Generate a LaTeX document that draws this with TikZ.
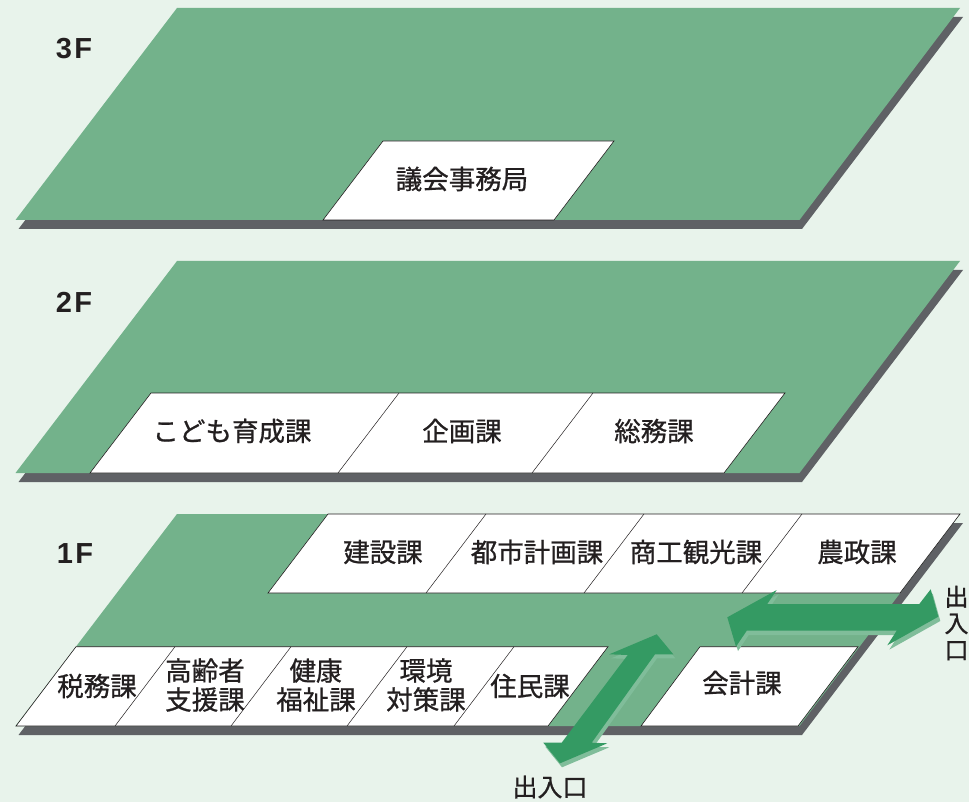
\documentclass[tikz,border=0pt]{standalone}
\usepackage{fontspec}
\setmainfont{Noto Sans CJK JP}
\newfontfamily\roomfont{Noto Sans CJK JP}[FakeBold=0.8]
\newfontfamily\levelfont{Liberation Sans}
\definecolor{bgc}{HTML}{E8F3EB}
\definecolor{floorc}{HTML}{73B28B}
\definecolor{shadowc}{HTML}{5F6165}
\definecolor{arrowc}{HTML}{349A63}
\definecolor{arrowl}{HTML}{80BD9A}
\definecolor{inkc}{HTML}{231F20}
\tikzset{
  floorplate/.style={fill=floorc},
  floorshadow/.style={fill=shadowc},
  roombox/.style={fill=white,draw=inkc,line width=0.6pt,line join=miter},
  divider/.style={draw=inkc,line width=0.5pt},
  roomlabel/.style={font=\fontsize{26.5pt}{29pt}\selectfont\roomfont,text=inkc,inner sep=0pt,align=center},
  floorlabel/.style={font=\fontsize{29pt}{30pt}\selectfont\levelfont\bfseries,text=inkc,inner sep=0pt},
  exitlabel/.style={font=\fontsize{25pt}{26.5pt}\selectfont\roomfont,text=inkc,inner sep=0pt,align=center},
  arrowbody/.style={fill=arrowc},
  arrowglow/.style={fill=arrowl},
}
\newcommand{\floorplate}[1]{%
  \fill[floorshadow,shift={(0,#1)}] (18.5,229) -- (180,17) -- (963,17) -- (802,229) -- cycle;
  \fill[floorplate,shift={(0,#1)}] (15.5,220) -- (177,8) -- (960,8) -- (799.5,220) -- cycle;
}
\newcommand{\horizarrow}{(727.3,617.3) -- (776.7,590) -- (767.3,604) -- (919.3,604) -- (930.7,589.3) -- (938.3,616.7) -- (887.3,645.3) -- (896.7,630.7) -- (746.7,630.7) -- (736,646.7) -- cycle}
\newcommand{\vertarrow}{(673.3,654.3) -- (656.7,634.3) -- (609.3,654.3) -- (627.7,655) -- (561.7,742.7) -- (543.3,742.7) -- (560,763.3) -- (607.3,743.3) -- (591.7,742.7) -- (655,654.3) -- cycle}
\begin{document}
\begin{tikzpicture}[x=1pt,y=-1pt]
\fill[bgc] (0,0) rectangle (969,802);
\useasboundingbox (0,0) rectangle (969,802);
\floorplate{0}
\floorplate{253}
\floorplate{506}
% 3F
\path[roombox] (323,220) -- (383,141) -- (614,141) -- (554,220) -- cycle;
% 2F
\path[roombox] (90,473) -- (151,393) -- (785,393) -- (724,473) -- cycle;
\draw[divider] (338,473) -- (399,393);
\draw[divider] (532,473) -- (593,393);
% 1F back row
\path[roombox] (268,593) -- (328,514) -- (960,514) -- (900,593) -- cycle;
\draw[divider] (426,593) -- (486,514);
\draw[divider] (584,593) -- (644,514);
\draw[divider] (742,593) -- (802,514);
% 1F front row
\path[roombox] (16,726) -- (76,646.7) -- (608,646.7) -- (548,726) -- cycle;
\draw[divider] (115,726) -- (175,646.7);
\draw[divider] (231,726) -- (291,646.7);
\draw[divider] (347,726) -- (407,646.7);
\draw[divider] (454,726) -- (514,646.7);
\path[roombox] (641,726) -- (700,646.7) -- (858,646.7) -- (798,726) -- cycle;
% arrows
\fill[arrowglow,shift={(2,4.3)}] \horizarrow;
\fill[arrowbody] \horizarrow;
\fill[arrowglow,shift={(2,4)}] \vertarrow;
\fill[arrowbody] \vertarrow;
% labels
\node[floorlabel] (f3) at (74,48.5) {3\kern2.5pt F};
\node[floorlabel] (f2) at (74,302) {2\kern2.5pt F};
\node[floorlabel] (f1) at (75,554) {1\kern2.5pt F};
\node[roomlabel] (r1) at (462,179) {議会事務局};
\node[roomlabel] (r2) at (232,431) {こども育成課};
\node[roomlabel] (r3) at (462,431) {企画課};
\node[roomlabel] (r4) at (654,431) {総務課};
\node[roomlabel] (r5) at (383,552) {建設課};
\node[roomlabel] (r6) at (537,552) {都市計画課};
\node[roomlabel] (r7) at (696,552) {商工観光課};
\node[roomlabel] (r8) at (857,552) {農政課};
\node[roomlabel] (r9) at (97,686) {税務課};
\node[roomlabel] (r10) at (205,685) {高齢者\\支援課};
\node[roomlabel] (r11) at (316,685) {健康\\福祉課};
\node[roomlabel] (r12) at (426,685) {環境\\対策課};
\node[roomlabel] (r13) at (530,686) {住民課};
\node[roomlabel] (r14) at (742,683) {会計課};
\node[exitlabel] (e1) at (550,787) {出入口};
\node[exitlabel,font=\fontsize{24pt}{26.5pt}\selectfont\roomfont] (e2) at (956.5,623) {出\\入\\口};
\end{tikzpicture}
\end{document}
